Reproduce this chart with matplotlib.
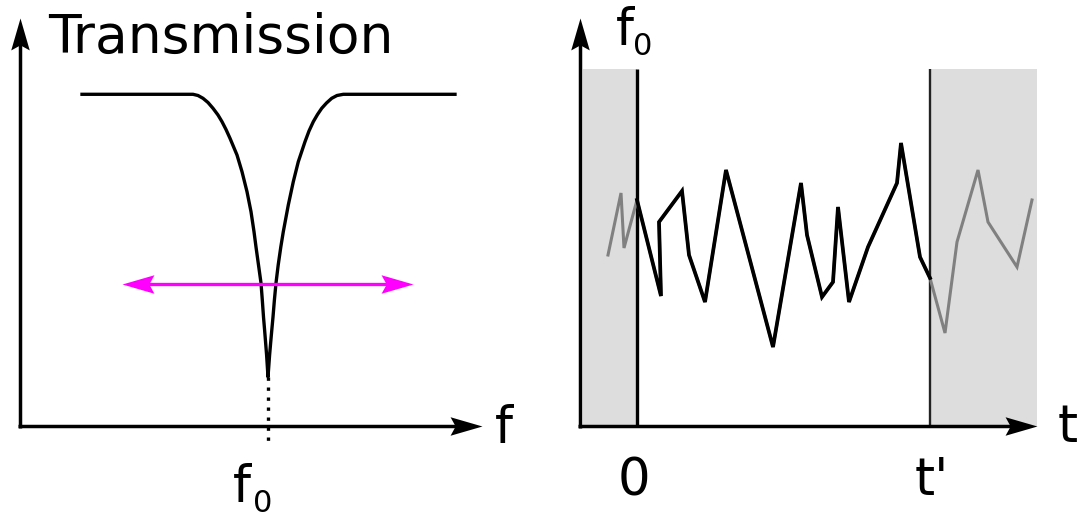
import numpy as np
import matplotlib
matplotlib.use('Agg')
import matplotlib.pyplot as plt
from matplotlib.path import Path
from matplotlib.markers import MarkerStyle
from matplotlib.transforms import Affine2D

# Left panel: transmission dip (x: frequency, y: transmission)
freq = [62, 173, 178, 183, 188, 193, 198, 202, 206, 210, 217, 222, 227, 231, 234, 236,
        238.5, 241, 242.3, 243.5, 244.6, 245.4, 246.6, 248,
        249.6, 250.9, 251.8, 253, 254.4, 256, 258.2, 260.8, 263.3, 268.3, 273.3, 278.3,
        285, 289, 293.3, 297.5, 301.7, 306.5, 311.7, 317, 323.3, 435]
trans = [331.7, 331.7, 330.5, 327.7, 323.5, 317.7, 311, 304.3, 296.5, 287.7, 271, 254.3,
         234.3, 214.3, 194.3, 179, 161, 143, 126, 109, 96, 86, 71, 49,
         71, 86, 96, 109, 126, 143, 161, 179, 194.3, 221, 244.3, 264.3,
         284.3, 295, 304.3, 311.5, 317.7, 323, 327.7, 330.5, 331.7, 331.7]
f0 = 248
sweep = [102, 393]   # magenta double arrow range
sweep_level = 142

# Right panel: f0 against time
t_vals = [-29, -16, -13, 0, 24, 22, 45, 52, 68, 89, 136, 164, 170, 185, 196, 201,
          212, 231, 260, 264, 283, 293, 308, 320, 341, 351, 380, 395]
f_vals = [171, 233, 178, 226, 130, 204, 235, 171, 124, 256, 79, 243, 191, 129, 144, 219,
          124, 179, 243, 283, 169, 148, 93, 184, 256, 204, 159, 226]
t_prime = 293

plt.rcParams['font.family'] = 'DejaVu Sans'
FS = 37
LW = 2.5

# concave arrow head, tip at origin pointing right
head = Path([(0, 0), (-1, 0.29), (-0.84, 0), (-1, -0.29), (0, 0)],
            [Path.MOVETO, Path.LINETO, Path.LINETO, Path.LINETO, Path.CLOSEPOLY])


def arrow_head(ax, x, y, angle, color='black'):
    m = MarkerStyle(head, transform=Affine2D().rotate_deg(angle))
    ax.plot([x], [y], marker=m, markersize=46, color=color, markeredgewidth=0,
            linestyle='none', clip_on=False, zorder=5)


fig = plt.figure(figsize=(10.8, 5.16), dpi=100)
W, H = 1080, 516
ax1 = fig.add_axes([20 / W, 90 / H, 520 / W, 426 / H])
ax1.set_xlim(0, 520)
ax1.set_ylim(0, 426)
ax2 = fig.add_axes([580 / W, 90 / H, 500 / W, 426 / H])
ax2.set_xlim(-57, 443)
ax2.set_ylim(0, 426)
for ax in (ax1, ax2):
    ax.axis('off')

# ---- left panel ----
ax1.plot([0, 0], [-1.7, 396], color='black', lw=LW, solid_capstyle='butt', clip_on=False)
ax1.plot([-1.7, 452], [0, 0], color='black', lw=LW, solid_capstyle='butt', clip_on=False)
arrow_head(ax1, 0, 408, 90)
arrow_head(ax1, 462, 0, 0)

ax1.plot(freq, trans, color='black', lw=2.4, solid_joinstyle='round', clip_on=False)
ax1.plot([f0, f0], [49, -16], color='black', lw=2.4, linestyle=(0, (1, 2)), clip_on=False)

ax1.plot([sweep[0] + 10, sweep[1] - 10], [sweep_level, sweep_level], color='#ff00ff',
         lw=2.4, solid_capstyle='butt')
arrow_head(ax1, sweep[0], sweep_level, 180, '#ff00ff')
arrow_head(ax1, sweep[1], sweep_level, 0, '#ff00ff')

ax1.text(28, 373, 'Transmission', fontsize=38.5, va='baseline', ha='left')
ax1.text(475, -17, 'f', fontsize=FS, va='baseline', ha='left', clip_on=False)
ax1.text(213, -76, 'f', fontsize=FS, va='baseline', ha='left', clip_on=False)
ax1.text(233, -86, '0', fontsize=22, va='baseline', ha='left', clip_on=False)

# ---- right panel ----
ax2.axvspan(-54, 0, ymax=357 / 426, color='#dddddd', lw=0)
ax2.axvspan(t_prime, 400, ymax=357 / 426, color='#dddddd', lw=0)
ax2.plot([0, 0], [-6, 357], color='black', lw=2.4, solid_capstyle='butt')
ax2.plot([t_prime, t_prime], [-6, 357], color='#222222', lw=1.7, solid_capstyle='butt')

ax2.plot([-57, -57], [-1.7, 396], color='black', lw=LW, solid_capstyle='butt', clip_on=False)
ax2.plot([-58.7, 388], [0, 0], color='black', lw=LW, solid_capstyle='butt', clip_on=False)
arrow_head(ax2, -57, 408, 90)
arrow_head(ax2, 400, 0, 0)

t = np.array(t_vals)
f = np.array(f_vals)
inside = (t >= 0) & (t <= t_prime)
ax2.plot(t, f, color='#808080', lw=2.2, solid_joinstyle='miter')
ax2.plot(t[inside], f[inside], color='black', lw=2.7, solid_joinstyle='miter')

ax2.text(-21, 381, 'f', fontsize=FS, va='baseline', ha='left', clip_on=False)
ax2.text(-4, 371, '0', fontsize=22, va='baseline', ha='left', clip_on=False)
ax2.text(-3, -69, '0', fontsize=FS, va='baseline', ha='center', clip_on=False)
ax2.text(t_prime + 2, -69, "t'", fontsize=FS, va='baseline', ha='center', clip_on=False)
ax2.text(421, -16, 't', fontsize=FS, va='baseline', ha='left', clip_on=False)

fig.savefig('out.png', dpi=100)
